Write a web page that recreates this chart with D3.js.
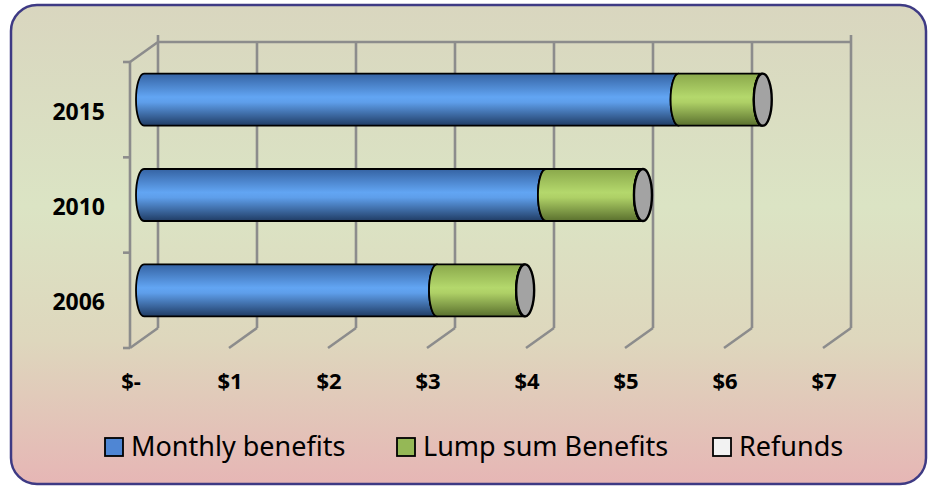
<!DOCTYPE html>
<html>
<head>
<meta charset="utf-8">
<script src="https://cdn.jsdelivr.net/npm/d3@7"></script>
<style>
  body { margin: 0; background: #fff; }
  svg { display: block; }
</style>
</head>
<body>
<div id="chart-container"></div>
<script>
// Data
const years = ["2015", "2010", "2006"];
const monthly = [5.4, 4.06, 2.96];
const lumpSum = [0.84, 0.97, 0.88];
const refunds = [0.01, 0.01, 0.01];
const seriesNames = ["Monthly benefits", "Lump sum Benefits", "Refunds"];
const tickValues = [0, 1, 2, 3, 4, 5, 6, 7];
const tickLabels = ["$-", "$1", "$2", "$3", "$4", "$5", "$6", "$7"];

const W = 933, H = 486;

const svg = d3.select("#chart-container")
  .append("svg")
  .attr("width", W)
  .attr("height", H);

const defs = svg.append("defs");

// background gradient
const bg = defs.append("linearGradient")
  .attr("id", "bg").attr("x1", 0).attr("y1", 0).attr("x2", 0).attr("y2", 1);
[[0, "#d9d6bf"], [0.42, "#dbe4c4"], [0.7, "#ded7bd"], [1, "#e6b6b5"]]
  .forEach(([o, c]) => bg.append("stop").attr("offset", o).attr("stop-color", c));

// cylinder shading
const shades = {
  blue: [[0, "#3563a3"], [0.45, "#62a5f3"], [0.55, "#5e9eea"], [1, "#203c64"]],
  green: [[0, "#8aa84b"], [0.45, "#b4d86c"], [0.55, "#aed066"], [1, "#5a702e"]],
  white: [[0, "#d8d8d8"], [0.5, "#ffffff"], [1, "#a0a0a0"]]
};
Object.entries(shades).forEach(([id, stops]) => {
  const g = defs.append("linearGradient")
    .attr("id", "g-" + id).attr("x1", 0).attr("y1", 0).attr("x2", 0).attr("y2", 1);
  stops.forEach(([o, c]) => g.append("stop").attr("offset", o).attr("stop-color", c));
});

svg.append("rect")
  .attr("x", 11).attr("y", 5)
  .attr("width", 915).attr("height", 479)
  .attr("rx", 26).attr("ry", 26)
  .attr("fill", "url(#bg)")
  .attr("stroke", "#3e3a84")
  .attr("stroke-width", 2.5);

// 3D frame: front plane and depth offset
const front = {left: 130, top: 62, bottom: 348};
const depth = {dx: 28, dy: -20};

const x = d3.scaleLinear().domain([0, 7]).range([0, 693]);
const y = d3.scaleBand().domain(years).range([front.top, front.bottom]);

const grid = svg.append("g")
  .attr("stroke", "#8c8c8c")
  .attr("stroke-width", 2.6)
  .attr("fill", "none");

const backLeft = front.left + depth.dx;
const backTop = front.top + depth.dy;
const backBottom = front.bottom + depth.dy;

// back wall verticals
grid.selectAll(".vgrid")
  .data(tickValues)
  .join("line")
  .attr("x1", d => backLeft + x(d))
  .attr("x2", d => backLeft + x(d))
  .attr("y1", (d, i) => (i === 0 || i === tickValues.length - 1) ? backTop - 7 : backTop)
  .attr("y2", backBottom);

// back wall top edge
grid.append("line")
  .attr("x1", backLeft).attr("x2", backLeft + x(7))
  .attr("y1", backTop).attr("y2", backTop);

// floor diagonals
grid.selectAll(".floor")
  .data(tickValues)
  .join("line")
  .attr("x1", d => backLeft + x(d))
  .attr("y1", backBottom)
  .attr("x2", d => front.left + x(d))
  .attr("y2", front.bottom);

// left wall
grid.append("line")
  .attr("x1", backLeft).attr("y1", backTop)
  .attr("x2", front.left).attr("y2", front.top);
grid.append("line")
  .attr("x1", front.left).attr("y1", front.top)
  .attr("x2", front.left).attr("y2", front.bottom);

// category ticks on front axis
const catTicks = years.map(d => y(d)).concat([front.bottom]);
grid.selectAll(".ctick")
  .data(catTicks)
  .join("line")
  .attr("x1", front.left - 7).attr("x2", front.left)
  .attr("y1", d => d).attr("y2", d => d);

// year labels
svg.selectAll(".ylab")
  .data(years)
  .join("text")
  .attr("x", 105)
  .attr("y", d => y(d) + y.bandwidth() / 2 + 10)
  .attr("text-anchor", "end")
  .attr("font-family", "'Noto Sans', sans-serif")
  .attr("font-weight", "bold")
  .attr("font-size", 23)
  .attr("fill", "#000")
  .text(d => d);

// x labels
svg.selectAll(".xlab")
  .data(tickValues)
  .join("text")
  .attr("x", d => front.left + x(d) + 1)
  .attr("y", 389)
  .attr("text-anchor", "middle")
  .attr("font-family", "'Noto Sans', sans-serif")
  .attr("font-weight", "bold")
  .attr("font-size", 22)
  .attr("fill", "#000")
  .text((d, i) => tickLabels[i]);

// cylinders (drawn at mid-depth)
const midX = front.left + depth.dx / 2;
const midY = depth.dy / 2;
const barH = 52;
const rx = 8;
const fills = ["url(#g-blue)", "url(#g-green)", "url(#g-white)"];

function segPath(x0, x1, yt, yb) {
  const ry = (yb - yt) / 2;
  return `M${x0},${yt} A${rx},${ry} 0 0 0 ${x0},${yb} L${x1},${yb} A${rx},${ry} 0 0 1 ${x1},${yt} Z`;
}

const bars = svg.append("g");
years.forEach((yr, i) => {
  const vals = [monthly[i], lumpSum[i], refunds[i]];
  const yc = y(yr) + y.bandwidth() / 2 + midY;
  const yt = yc - barH / 2, yb = yc + barH / 2;
  let acc = 0;
  vals.forEach((v, j) => {
    const x0 = midX + x(acc);
    const x1 = midX + x(acc + v);
    bars.append("path")
      .attr("d", segPath(x0, x1, yt, yb))
      .attr("fill", fills[j])
      .attr("stroke", "#000")
      .attr("stroke-width", 1.8)
      .attr("stroke-linejoin", "round");
    acc += v;
  });
  bars.append("ellipse")
    .attr("cx", midX + x(acc))
    .attr("cy", yc)
    .attr("rx", rx + 1)
    .attr("ry", barH / 2)
    .attr("fill", "#a3a3a3")
    .attr("stroke", "#000")
    .attr("stroke-width", 2.4);
});

// legend
const legendColors = ["#4f86d4", "#95b856", "#f2f2f2"];
const legendX = [105, 397, 713];
const legend = svg.selectAll(".legend")
  .data(seriesNames)
  .join("g")
  .attr("class", "legend")
  .attr("transform", (d, i) => `translate(${legendX[i]},438)`);

legend.append("rect")
  .attr("width", 18).attr("height", 18)
  .attr("fill", (d, i) => legendColors[i])
  .attr("stroke", "#000")
  .attr("stroke-width", 1.8);

legend.append("text")
  .attr("x", 26)
  .attr("y", 18)
  .attr("font-family", "'Noto Sans', sans-serif")
  .attr("font-size", 27)
  .attr("fill", "#000")
  .text(d => d);
</script>
</body>
</html>
